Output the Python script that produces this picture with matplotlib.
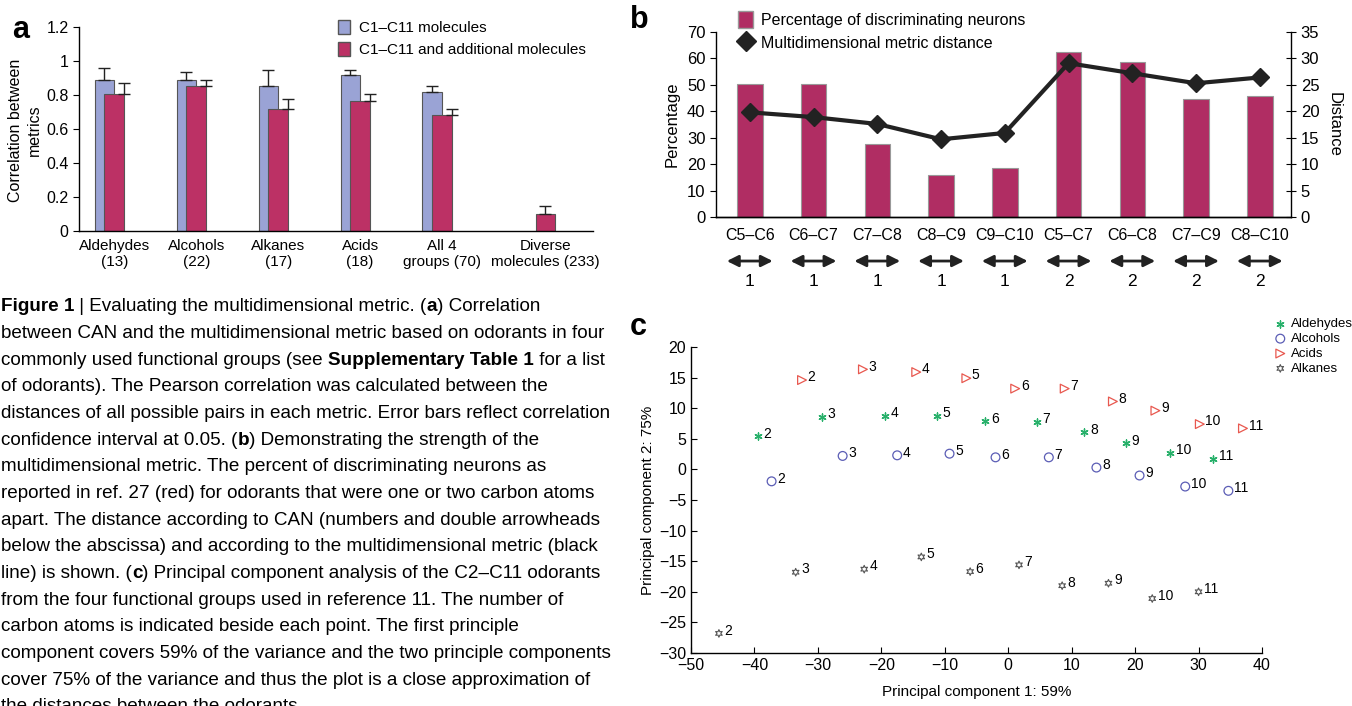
import matplotlib
matplotlib.use("Agg")
import matplotlib.pyplot as plt
from matplotlib.patches import Patch
from matplotlib.lines import Line2D

plt.rcParams['font.family'] = ['Liberation Sans Narrow', 'Liberation Sans', 'DejaVu Sans']
plt.rcParams['axes.linewidth'] = 1.0

W, H = 1352, 706

# ---- panel a data
groups_a = ["Aldehydes\n(13)", "Alcohols\n(22)", "Alkanes\n(17)", "Acids\n(18)",
            "All 4\ngroups (70)", "Diverse\nmolecules (233)"]
c1_c11 = [0.89, 0.89, 0.85, 0.92, 0.815]
c1_c11_err = [0.07, 0.047, 0.095, 0.027, 0.04]
additional = [0.806, 0.855, 0.72, 0.767, 0.685, 0.10]
additional_err = [0.065, 0.035, 0.055, 0.041, 0.035, 0.049]

# ---- panel b data
pairs_b = ["C5–C6", "C6–C7", "C7–C8", "C8–C9", "C9–C10", "C5–C7", "C6–C8", "C7–C9", "C8–C10"]
pct_neurons = [50.4, 50.4, 27.7, 15.8, 18.5, 62.6, 58.7, 44.6, 45.9]
metric_dist = [19.8, 18.9, 17.6, 14.7, 15.9, 29.1, 27.2, 25.3, 26.4]
can_dist = [1, 1, 1, 1, 1, 2, 2, 2, 2]

# ---- panel c data (carbon atoms 2..11)
carbons = [2, 3, 4, 5, 6, 7, 8, 9, 10, 11]
ald_x = [-39.5, -29.4, -19.4, -11.3, -3.6, 4.5, 12.0, 18.6, 25.5, 32.3]
ald_y = [5.4, 8.6, 8.8, 8.8, 7.85, 7.75, 6.06, 4.26, 2.73, 1.7]
alc_x = [-37.3, -26.1, -17.5, -9.25, -2.0, 6.4, 13.9, 20.7, 27.9, 34.7]
alc_y = [-1.95, 2.2, 2.3, 2.57, 1.97, 1.97, 0.3, -1.0, -2.8, -3.5]
acid_x = [-32.5, -22.9, -14.5, -6.6, 1.1, 8.9, 16.5, 23.2, 30.2, 37.0]
acid_y = [14.6, 16.35, 15.9, 14.9, 13.2, 13.2, 11.1, 9.6, 7.4, 6.7]
alk_x = [-45.6, -33.5, -22.7, -13.7, -6.0, 1.7, 8.5, 15.8, 22.7, 30.0]
alk_y = [-26.8, -16.8, -16.3, -14.3, -16.7, -15.6, -19.0, -18.6, -21.1, -20.0]

caption = [
    [("Figure 1", True), (" | Evaluating the multidimensional metric. (", False), ("a", True), (") Correlation", False)],
    [("between CAN and the multidimensional metric based on odorants in four", False)],
    [("commonly used functional groups (see ", False), ("Supplementary Table 1", True), (" for a list", False)],
    [("of odorants). The Pearson correlation was calculated between the", False)],
    [("distances of all possible pairs in each metric. Error bars reflect correlation", False)],
    [("confidence interval at 0.05. (", False), ("b", True), (") Demonstrating the strength of the", False)],
    [("multidimensional metric. The percent of discriminating neurons as", False)],
    [("reported in ref. 27 (red) for odorants that were one or two carbon atoms", False)],
    [("apart. The distance according to CAN (numbers and double arrowheads", False)],
    [("below the abscissa) and according to the multidimensional metric (black", False)],
    [("line) is shown. (", False), ("c", True), (") Principal component analysis of the C2–C11 odorants", False)],
    [("from the four functional groups used in reference 11. The number of", False)],
    [("carbon atoms is indicated beside each point. The first principle", False)],
    [("component covers 59% of the variance and the two principle components", False)],
    [("cover 75% of the variance and thus the plot is a close approximation of", False)],
    [("the distances between the odorants.", False)],
]

BLUE = '#9aa3d5'
RED_A = '#bc3165'
RED_B = '#b02d63'


def box(l, t, r, b):
    return [l / W, 1 - b / H, (r - l) / W, (b - t) / H]


fig = plt.figure(figsize=(W / 100, H / 100), dpi=100)

# ================= panel a
axa = fig.add_axes(box(79, 27, 593, 231))
xa = [0, 1, 2, 3, 4, 5.38]
bw = 0.24
axa.bar([x - bw / 2 for x in xa[:5]], c1_c11, bw, color=BLUE, edgecolor='#555555', lw=0.8,
        yerr=[[0] * 5, c1_c11_err], error_kw=dict(lw=1, capsize=4, capthick=1, ecolor='#222222'))
axa.bar([x - bw / 2 for x in xa[:5]] + [xa[5] - bw], additional, bw, align='edge',
        color=RED_A, edgecolor='#555555', lw=0.8)
axa.errorbar([x + bw / 2 for x in xa[:5]] + [xa[5] - bw / 2], additional,
             yerr=[[0] * 6, additional_err], fmt='none', ecolor='#222222', lw=1, capsize=4, capthick=1)
axa.set_xlim(-0.43, 5.84)
axa.set_ylim(0, 1.2)
axa.set_yticks([0, 0.2, 0.4, 0.6, 0.8, 1, 1.2])
axa.set_yticklabels(['0', '0.2', '0.4', '0.6', '0.8', '1', '1.2'])
axa.set_xticks([x for x in xa[:5]] + [xa[5] - bw / 2])
axa.set_xticklabels(groups_a, fontsize=11, linespacing=1.15)
axa.tick_params(axis='x', length=0, pad=6)
axa.tick_params(axis='y', labelsize=11.5, length=4, direction='out')
for s in ['top', 'right']:
    axa.spines[s].set_visible(False)
fig.text(25 / W, 1 - 130 / H, "Correlation between\nmetrics", rotation=90, ha='center', va='center',
         fontsize=11.5, linespacing=1.25)
fig.legend(handles=[Patch(facecolor=BLUE, edgecolor='#555555'), Patch(facecolor=RED_A, edgecolor='#555555')],
           labels=["C1–C11 molecules", "C1–C11 and additional molecules"],
           loc='upper left', bbox_to_anchor=(338 / W, 1 - 20 / H), frameon=False, fontsize=11,
           handlelength=0.8, handleheight=1.0, handletextpad=0.55, labelspacing=0.45,
           borderpad=0, borderaxespad=0)
fig.text(12 / W, 1 - 30 / H, "a", fontsize=22, fontweight='bold', va='center', ha='left',
         family='Liberation Sans')

# ================= panel b
axb = fig.add_axes(box(716, 32, 1291, 217))
xb = list(range(len(pairs_b)))
axb.bar(xb, pct_neurons, 0.40, color=RED_B, edgecolor='#999999', lw=0.8)
axb.set_xlim(-0.53, 8.49)
axb.set_ylim(0, 70)
axb.set_yticks(range(0, 71, 10))
axb.set_xticks(xb)
axb.set_xticklabels(pairs_b, fontsize=11.5)
axb.tick_params(axis='x', length=0, pad=8)
axb.tick_params(axis='y', labelsize=12, length=4, direction='out')
axb.set_ylabel("Percentage", fontsize=12, labelpad=5)
for s in ['top', 'right']:
    axb.spines[s].set_visible(False)
ax2 = axb.twinx()
ax2.plot(xb, metric_dist, color='#222222', lw=3, marker='D', ms=9)
ax2.set_ylim(0, 35)
ax2.set_yticks(range(0, 36, 5))
ax2.tick_params(axis='y', labelsize=12, length=7, direction='inout')
ax2.set_ylabel("Distance", fontsize=12, rotation=270, labelpad=16)
for s in ['top', 'left']:
    ax2.spines[s].set_visible(False)
tr = axb.get_xaxis_transform()
for i, d in enumerate(can_dist):
    axb.annotate('', xy=(i + 0.36, -0.238), xytext=(i - 0.36, -0.238), xycoords=tr, textcoords=tr,
                 arrowprops=dict(arrowstyle='<|-|>', color='#222222', lw=2, mutation_scale=17,
                                 shrinkA=0, shrinkB=0), annotation_clip=False)
    axb.text(i, -0.351, str(d), transform=tr, ha='center', va='center', fontsize=12.5)
fig.legend(handles=[Patch(facecolor=RED_B, edgecolor='#999999'),
                    Line2D([], [], ls='none', marker='D', ms=10, color='#222222')],
           labels=["Percentage of discriminating neurons", "Multidimensional metric distance"],
           loc='upper left', bbox_to_anchor=(738 / W, 1 - 11 / H), frameon=False, fontsize=11.5,
           handlelength=0.95, handleheight=1.3, handletextpad=0.5, labelspacing=0.35,
           borderpad=0, borderaxespad=0)
fig.text(630 / W, 1 - 20 / H, "b", fontsize=22, fontweight='bold', va='center', ha='left',
         family='Liberation Sans')

# ================= panel c
axc = fig.add_axes(box(691, 347, 1262, 653))
axc.scatter(ald_x, ald_y, marker=(6, 2, 0), s=26, color='#27b06a', lw=1.0, label='Aldehydes')
axc.scatter(alc_x, alc_y, marker='o', s=40, facecolor='none', edgecolor='#5b5db5', lw=0.9, label='Alcohols')
axc.scatter(acid_x, acid_y, marker='>', s=40, facecolor='none', edgecolor='#e8584f', lw=0.9, label='Acids')
axc.scatter(alk_x, alk_y, marker=(6, 1, 0), s=30, facecolor='none', edgecolor='#555555', lw=0.8, label='Alkanes')
for xs, ys in [(ald_x, ald_y), (alc_x, alc_y), (acid_x, acid_y), (alk_x, alk_y)]:
    for c, px, py in zip(carbons, xs, ys):
        axc.annotate(str(c), (px, py), xytext=(4, 2), textcoords='offset points',
                     fontsize=10, ha='left', va='center')
axc.set_xlim(-50, 40)
axc.set_ylim(-30, 20)
axc.set_xticks(range(-50, 41, 10))
axc.set_yticks(range(-30, 21, 5))
axc.set_xticklabels([str(v).replace('-', '−') for v in range(-50, 41, 10)])
axc.set_yticklabels([str(v).replace('-', '−') for v in range(-30, 21, 5)])
axc.tick_params(labelsize=11.5, length=4, direction='in')
for s in ['top', 'right']:
    axc.spines[s].set_visible(False)
axc.set_xlabel("Principal component 1: 59%", fontsize=11, labelpad=9)
axc.set_ylabel("Principal component 2: 75%", fontsize=11, labelpad=3)
hl, lb = axc.get_legend_handles_labels()
fig.legend(hl, lb, loc='upper left', bbox_to_anchor=(1275 / W, 1 - 318 / H), frameon=False,
           fontsize=9.5, handlelength=0.8, handletextpad=0.4, labelspacing=0.2,
           borderpad=0, borderaxespad=0, scatterpoints=1)
fig.text(630 / W, 1 - 327 / H, "c", fontsize=22, fontweight='bold', va='center', ha='left',
         family='Liberation Sans')

# ================= caption
renderer = fig.canvas.get_renderer()
probe = fig.text(0, 0, caption[4][0][0], fontsize=14)
size = 14 * 618 / probe.get_window_extent(renderer=renderer).width
probe.remove()
for k, line in enumerate(caption):
    x = 1
    y = 306.7 + k * 26.67
    for txt, bold in line:
        t = fig.text(x / W, 1 - y / H, txt, fontsize=size, fontweight='bold' if bold else 'normal',
                     ha='left', va='center')
        x += t.get_window_extent(renderer=renderer).width

fig.savefig("out.png", dpi=100)
